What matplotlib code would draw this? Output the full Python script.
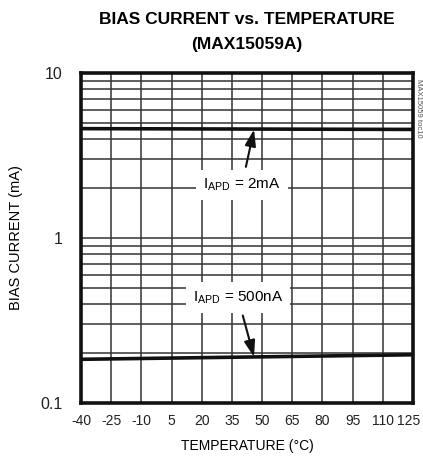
import matplotlib
matplotlib.use("Agg")
import matplotlib.pyplot as plt
import matplotlib.transforms as mtrans
from matplotlib import font_manager as fm

names = {f.name for f in fm.fontManager.ttflist}
NARROW = "Liberation Sans Narrow" if "Liberation Sans Narrow" in names else "Liberation Sans"
plt.rcParams["font.family"] = [NARROW, "DejaVu Sans"]

# ── Data ─────────────────────────────────────────────────────────────────────
temp = [-40, 125]
bias_2ma = [4.60, 4.55]       # mA, IAPD = 2mA
bias_500na = [0.184, 0.196]   # mA, IAPD = 500nA
xticks = [-40, -25, -10, 5, 20, 35, 50, 65, 80, 95, 110, 125]
yticks = [0.1, 1, 10]
ytick_labels = ["0.1", "1", "10"]

fig = plt.figure(figsize=(4.23, 4.63), dpi=100)
ax = fig.add_axes([81 / 423, 1 - 403 / 463, 332 / 423, 330 / 463])

ax.set_yscale("log")
ax.set_xlim(-40, 125)
ax.set_ylim(0.1, 10)
ax.set_xticks(xticks)
ax.set_xticklabels([str(t) for t in xticks], fontsize=10)
ax.set_yticks(yticks)
ax.set_yticklabels(ytick_labels, fontsize=11.5)
ax.minorticks_on()
ax.xaxis.set_minor_locator(plt.NullLocator())
ax.yaxis.set_minor_formatter(plt.NullFormatter())
ax.tick_params(which="both", length=0, colors="#222")
ax.tick_params(axis="x", pad=8)
ax.tick_params(axis="y", pad=13)
ax.grid(which="both", axis="both", color="#333", linewidth=1.1)
for sp in ax.spines.values():
    sp.set_linewidth(2.6)
    sp.set_color("#111")

# nudge the last x label so it stays inside the figure
last = ax.get_xticklabels()[-1]
last.set_transform(last.get_transform() +
                   mtrans.ScaledTranslation(-4 / 100, 0, fig.dpi_scale_trans))

ax.plot(temp, bias_2ma, color="#111", linewidth=2.6, zorder=4)
ax.plot(temp, bias_500na, color="#111", linewidth=2.6, zorder=4)

box = dict(facecolor="white", edgecolor="none", pad=5)
arrow = dict(arrowstyle="-|>,head_length=0.9,head_width=0.3",
             color="#111", lw=1.5, shrinkA=2, shrinkB=0)
ax.annotate("I$_{\\mathregular{APD}}$ = 2mA", xy=(46, 4.55), xytext=(40, 2.1),
            ha="center", va="center", fontsize=11, bbox=box, zorder=5,
            arrowprops=arrow)
ax.annotate("I$_{\\mathregular{APD}}$ = 500nA", xy=(46, 0.19), xytext=(38, 0.435),
            ha="center", va="center", fontsize=11, bbox=box, zorder=5,
            arrowprops=arrow)

ax.set_xlabel("TEMPERATURE (°C)", fontsize=10, labelpad=8)
ax.set_ylabel("BIAS CURRENT (mA)", fontsize=10.5, labelpad=13)

fig.text(247 / 423, 1 - 20 / 463, "BIAS CURRENT vs. TEMPERATURE", ha="center",
         va="center", fontsize=12.5, fontweight="bold")
fig.text(247 / 423, 1 - 44 / 463, "(MAX15059A)", ha="center", va="center",
         fontsize=12.5, fontweight="bold")
fig.text(418 / 423, 1 - 108 / 463, "MAX15059 toc10", rotation=270, ha="center",
         va="center", fontsize=5.5, color="#555")

plt.savefig("out.png", dpi=100, facecolor="white")
plt.close()
